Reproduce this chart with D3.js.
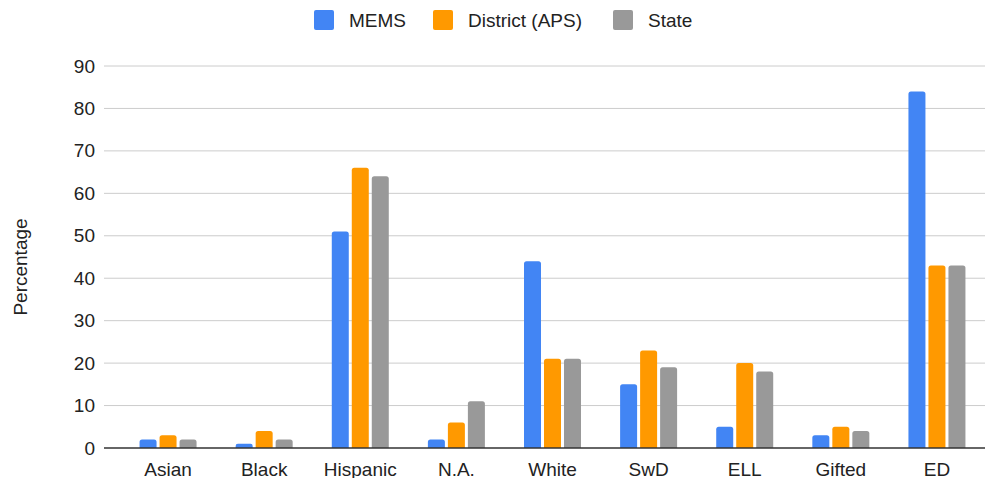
<!DOCTYPE html>
<html>
<head>
<meta charset="utf-8">
<script src="https://cdn.jsdelivr.net/npm/d3@7"></script>
<style>
  body { margin: 0; background: #fff; }
  text { font-family: "Liberation Sans", Arial, sans-serif; }
</style>
</head>
<body>
<div class="graph"></div>
<script>
// datos
const categories = ['Asian', 'Black', 'Hispanic', 'N.A.', 'White', 'SwD', 'ELL', 'Gifted', 'ED']
const seriesNames = ['MEMS', 'District (APS)', 'State']
const mems = [2, 1, 51, 2, 44, 15, 5, 3, 84]
const district = [3, 4, 66, 6, 21, 23, 20, 5, 43]
const state = [2, 2, 64, 11, 21, 19, 18, 4, 43]
const yTicks = [0, 10, 20, 30, 40, 50, 60, 70, 80, 90]

const colors = ['#4285f4', '#ff9900', '#999999']
const seriesValues = [mems, district, state]

// tamaño del SVG
const width = 986, height = 478
const margin = { left: 104, right: 1 }
const fontSize = 19

const svg = d3.select('.graph')
  .append('svg')
  .attr('width', width)
  .attr('height', height)

// escalas
const xScale = d3.scaleBand()
  .domain(categories)
  .range([120, 985])

const xInner = d3.scaleBand()
  .domain(seriesNames)
  .range([0, 57])
  .paddingInner(0.15)

const yScale = d3.scaleLinear()
  .domain([0, 90])
  .range([448, 66])

// grid
svg.append('g')
  .selectAll('line')
  .data(yTicks.filter(d => d !== 0))
  .enter()
  .append('line')
  .attr('x1', margin.left)
  .attr('x2', width - margin.right)
  .attr('y1', d => yScale(d))
  .attr('y2', d => yScale(d))
  .attr('stroke', '#cccccc')
  .attr('stroke-width', 1)

// eje y
const yAxis = d3.axisLeft(yScale).tickValues(yTicks).tickSize(0).tickPadding(0)
svg.append('g')
  .attr('transform', `translate(95,0)`)
  .call(yAxis)
  .call(g => g.select('.domain').remove())
  .selectAll('text')
  .attr('font-size', fontSize)
  .attr('fill', '#222')
  .attr('font-family', '"Liberation Sans", Arial, sans-serif')

// barras
const rows = []
categories.forEach((c, i) => {
  seriesNames.forEach((s, j) => rows.push({ cat: c, series: s, value: seriesValues[j][i], color: colors[j] }))
})

const groupW = xInner.range()[1]
svg.append('g')
  .selectAll('path')
  .data(rows)
  .enter()
  .append('path')
  .attr('fill', d => d.color)
  .attr('d', d => {
    const x = xScale(d.cat) + (xScale.bandwidth() - groupW) / 2 + xInner(d.series)
    const w = xInner.bandwidth()
    const y = yScale(d.value), y0 = yScale(0)
    const r = Math.min(2.5, (y0 - y) / 2)
    return `M${x},${y0}V${y + r}Q${x},${y} ${x + r},${y}H${x + w - r}Q${x + w},${y} ${x + w},${y + r}V${y0}Z`
  })

// linea cero
svg.append('line')
  .attr('x1', margin.left)
  .attr('x2', width - margin.right)
  .attr('y1', yScale(0))
  .attr('y2', yScale(0))
  .attr('stroke', '#333333')
  .attr('stroke-width', 1.3)

// eje x
const xAxis = d3.axisBottom(xScale).tickSize(0).tickPadding(0)
svg.append('g')
  .attr('transform', `translate(0,${yScale(0) + 28})`)
  .call(xAxis)
  .call(g => g.select('.domain').remove())
  .selectAll('text')
  .attr('dy', 0)
  .attr('font-size', fontSize)
  .attr('fill', '#222')
  .attr('font-family', '"Liberation Sans", Arial, sans-serif')

// titulo eje y
svg.append('text')
  .text('Percentage')
  .attr('transform', `translate(27,267) rotate(-90)`)
  .attr('text-anchor', 'middle')
  .attr('font-size', fontSize)
  .attr('fill', '#222')

// leyenda
const legendX = [314, 433, 613]
const legend = svg.append('g')
  .selectAll('g')
  .data(seriesNames)
  .enter()
  .append('g')
  .attr('transform', (d, i) => `translate(${legendX[i]},10)`)

legend.append('rect')
  .attr('width', 20)
  .attr('height', 20)
  .attr('rx', 2)
  .attr('fill', (d, i) => colors[i])

legend.append('text')
  .text(d => d)
  .attr('x', 35)
  .attr('y', 17)
  .attr('font-size', fontSize)
  .attr('fill', '#222')
</script>
</body>
</html>
